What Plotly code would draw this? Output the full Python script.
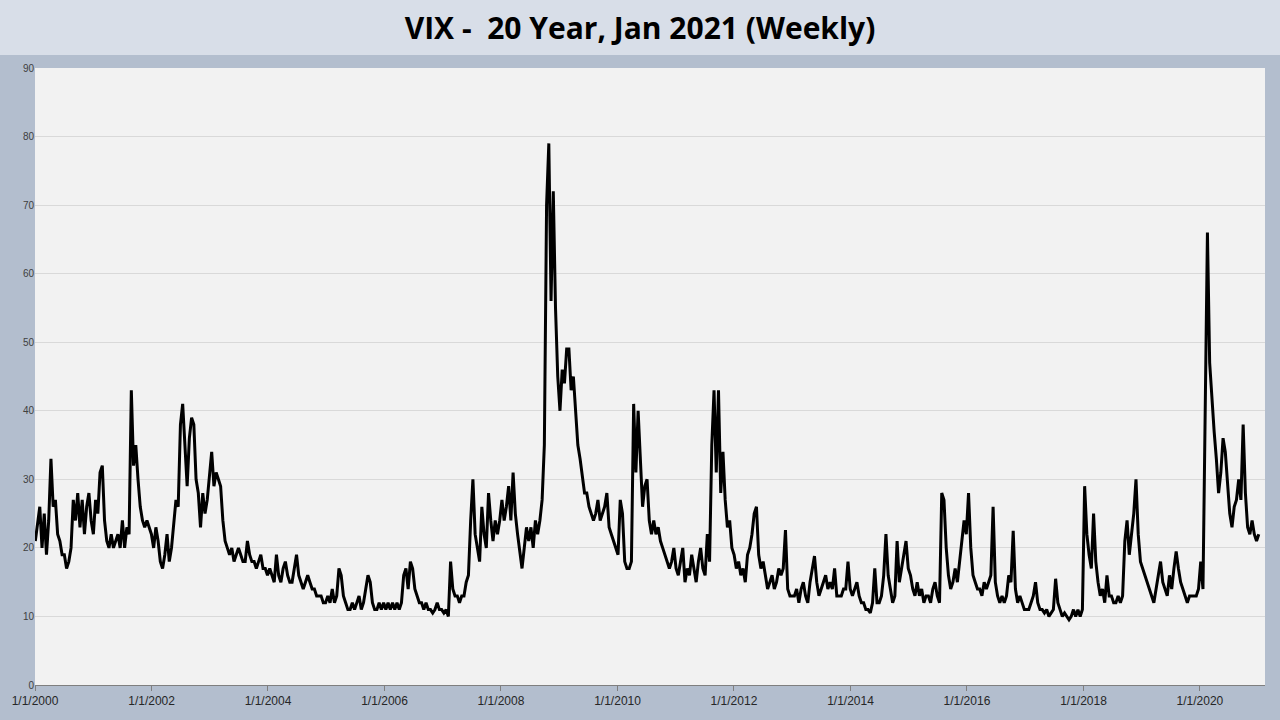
import pandas as pd
import plotly.graph_objects as go

# Bi-weekly VIX closes, one list per year (26 points each)
vix_2000 = [21, 24, 26, 20, 25, 19, 24, 33, 26, 27, 22, 21, 19, 19, 17, 18, 20, 27, 24, 28, 23, 27, 22, 26, 28, 24]
vix_2001 = [22, 27, 25, 31, 32, 24, 21, 20, 22, 20, 21, 22, 20, 24, 20, 23, 22, 43, 32, 35, 30, 26, 24, 23, 24, 23]
vix_2002 = [22, 20, 23, 21, 18, 17, 19, 22, 18, 20, 23, 27, 26, 38, 41, 35, 29, 36, 39, 38, 30, 28, 23, 28, 25, 27]
vix_2003 = [31, 34, 29, 31, 30, 29, 24, 21, 20, 19, 20, 18, 19, 20, 19, 18, 18, 21, 19, 18, 18, 17, 18, 19, 17, 17]
vix_2004 = [16, 17, 16, 15, 19, 16, 15, 17, 18, 16, 15, 15, 17, 19, 16, 15, 14, 15, 16, 15, 14, 14, 13, 13, 13, 12]
vix_2005 = [12, 13, 12, 14, 12, 13, 17, 16, 13, 12, 11, 11, 12, 11, 12, 13, 11, 12, 14, 16, 15, 12, 11, 11, 12, 11]
vix_2006 = [12, 11, 12, 11, 12, 11, 12, 11, 12, 16, 17, 14, 18, 17, 14, 13, 12, 12, 11, 12, 11, 11, 10.5, 11, 12, 11]
vix_2007 = [11, 10.5, 11, 10, 18, 14, 13, 13, 12, 13, 13, 15, 16, 24, 30, 22, 20, 18, 26, 22, 20, 28, 24, 21, 24, 22]
vix_2008 = [24, 27, 24, 26, 29, 24, 31, 25, 22, 19, 17, 20, 23, 21, 23, 20, 24, 22, 24, 27, 35, 70, 79, 56, 72, 55]
vix_2009 = [45, 40, 46, 44, 49, 49, 43, 45, 39, 35, 33, 30, 28, 28, 26, 25, 24, 25, 27, 24, 25, 26, 28, 23, 22, 21]
vix_2010 = [20, 19, 27, 25, 18, 17, 17, 18, 41, 31, 40, 34, 26, 29, 30, 24, 22, 24, 22, 23, 21, 20, 19, 18, 17, 18]
vix_2011 = [20, 17, 16, 18, 20, 15, 17, 16, 19, 17, 15, 18, 20, 17, 16, 22, 18, 35, 43, 31, 43, 28, 34, 27, 23, 24]
vix_2012 = [20, 19, 17, 18, 16, 17, 15, 19, 20, 22, 25, 26, 19, 17, 18, 16, 14, 15, 16, 14, 15, 17, 16, 17, 22.6, 14]
vix_2013 = [13, 13, 13, 14, 12, 14, 15, 13, 12, 15, 17, 18.8, 15, 13, 14, 15, 16, 14, 15, 14, 17, 13, 13, 13, 14, 14]
vix_2014 = [18, 14, 13, 14, 15, 13, 12, 12, 11, 11, 10.5, 12, 17, 12, 12, 13, 16, 22, 16, 14, 12, 13, 21, 15, 17, 19]
vix_2015 = [21, 17, 16, 14, 13, 15, 13, 14, 12, 13, 13, 12, 14, 15, 13, 12, 28, 27, 20, 16, 14, 15, 17, 15, 18, 21]
vix_2016 = [24, 22, 28, 20, 16, 15, 14, 14, 13, 15, 14, 15, 16, 26, 15, 13, 12, 13, 12, 13, 16, 15, 22.5, 14, 12, 13]
vix_2017 = [12, 11, 11, 11, 12, 13, 15, 12, 11, 11, 10.5, 11, 10, 10.5, 11, 15.5, 12, 11, 10, 10.5, 10, 9.5, 10, 11, 10, 11]
vix_2018 = [10, 11, 29, 22, 19, 17, 25, 18, 15, 13, 14, 12, 16, 13, 13, 12, 12, 13, 12, 13, 21, 24, 19, 22, 25, 30]
vix_2019 = [22, 18, 17, 16, 15, 14, 13, 12, 14, 16, 18, 15, 14, 13, 16, 14, 17, 19.5, 17, 15, 14, 13, 12, 13, 13, 13]
vix_2020 = [13, 14, 18, 14, 40, 66, 47, 41, 37, 33, 28, 31, 36, 34, 29, 25, 23, 26, 27, 30, 27, 38, 28, 23, 22, 24]
vix_2021 = [22, 21, 22]

tick_years = list(range(2000, 2021, 2))
tick_labels = [f"1/1/{y}" for y in tick_years]

vix = (vix_2000 + vix_2001 + vix_2002 + vix_2003 + vix_2004 + vix_2005 + vix_2006
       + vix_2007 + vix_2008 + vix_2009 + vix_2010 + vix_2011 + vix_2012 + vix_2013
       + vix_2014 + vix_2015 + vix_2016 + vix_2017 + vix_2018 + vix_2019 + vix_2020
       + vix_2021)
dates = pd.date_range("2000-01-03", periods=len(vix), freq="14D")

fig = go.Figure()
fig.add_trace(go.Scatter(x=dates, y=vix, mode="lines",
                         line=dict(color="black", width=3), showlegend=False))

# title band across the full width
fig.add_shape(type="rect", xref="paper", yref="paper", x0=-0.05, x1=1.05,
              y0=1.021, y1=1.2, fillcolor="#d8dee8", line_width=0, layer="below")

fig.update_layout(
    width=1280, height=720,
    margin=dict(l=35, r=15, t=68, b=35),
    paper_bgcolor="#b3bece",
    plot_bgcolor="#f2f2f2",
    title=dict(text="<b>VIX -  20 Year, Jan 2021 (Weekly)</b>", x=0.5, y=0.975,
               xanchor="center", yanchor="top", automargin=False,
               font=dict(family="Open Sans", size=30, color="black")),
    xaxis=dict(range=["2000-01-01", "2021-02-12"], automargin=False,
               tickvals=[f"{y}-01-01" for y in tick_years], ticktext=tick_labels,
               showgrid=False, ticks="outside", ticklen=5, tickcolor="#7f7f7f",
               showline=True, linecolor="#7f7f7f",
               tickprefix="<b>", ticksuffix="</b>",
               tickfont=dict(family="Liberation Sans", size=12, color="#262626")),
    yaxis=dict(range=[0, 90], dtick=10, gridcolor="#d9d9d9", zeroline=False,
               automargin=False,
               tickfont=dict(family="Liberation Sans", size=10, color="#404040")),
)

# drop the browser's default 8px body margin so the figure sits flush
fig.write_html("out.html", config={"displayModeBar": False},
               post_script="document.body.style.margin='0';")
